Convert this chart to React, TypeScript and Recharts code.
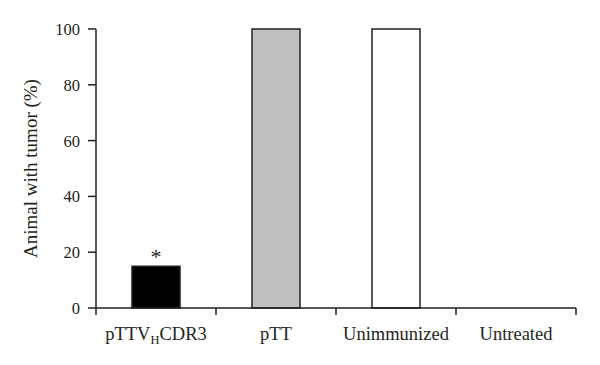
import { BarChart, Bar, XAxis, YAxis, Cell, LabelList } from 'recharts';

const categories = ['pTTV_HCDR3', 'pTT', 'Unimmunized', 'Untreated'];
const tumorPct = [15, 100, 100, 0];
const marks = ['*', '', '', ''];
const fills = ['#000000', '#c0c0c0', '#ffffff', '#ffffff'];
const yTicks = [0, 20, 40, 60, 80, 100];
const yTitle = 'Animal with tumor (%)';

const data = categories.map((name, i) => ({ name, value: tumorPct[i], mark: marks[i] }));

const INK = '#231f20';
const FONT = "'Liberation Serif', 'DejaVu Serif', serif";
const CHART_W = 600;
const CHART_H = 365;
const MARGIN = { top: 29, right: 24, bottom: 12, left: 16 };
const Y_W = 80;
const X_H = 45;
const BAND = (CHART_W - MARGIN.left - MARGIN.right - Y_W) / categories.length;
const PLOT_MID = MARGIN.top + (CHART_H - MARGIN.top - MARGIN.bottom - X_H) / 2;

// category label at the center, tick marks on the band edges
function CategoryTick({ x, y, payload, index }: { x?: number; y?: number; payload?: { value: string }; index?: number }) {
  const cx = x ?? 0;
  const ty = y ?? 0;
  const raw = payload?.value ?? '';
  const [main, rest] = raw.split('_');
  const isLast = index === categories.length - 1;
  return (
    <g>
      <line x1={cx - BAND / 2} x2={cx - BAND / 2} y1={ty - 7} y2={ty} stroke={INK} strokeWidth={1.5} />
      {isLast && <line x1={cx + BAND / 2} x2={cx + BAND / 2} y1={ty - 7} y2={ty} stroke={INK} strokeWidth={1.5} />}
      <text x={cx} y={ty + 25} textAnchor="middle" style={{ fontFamily: FONT, fontSize: 18.5 }} fill={INK}>
        {rest === undefined ? (
          main
        ) : (
          <>
            <tspan>{main}</tspan>
            <tspan style={{ fontSize: 12.5 }} dy={4}>{rest.charAt(0)}</tspan>
            <tspan dy={-4}>{rest.slice(1)}</tspan>
          </>
        )}
      </text>
    </g>
  );
}

function ValueTick({ x, y, payload }: { x?: number; y?: number; payload?: { value: number } }) {
  return (
    <text x={x} y={(y ?? 0) + 6} textAnchor="end" fill={INK} style={{ fontFamily: FONT, fontSize: 16.5 }}>
      {payload?.value}
    </text>
  );
}

export default function App() {
  return (
    <div style={{ width: CHART_W, height: CHART_H, background: '#fff', fontFamily: FONT, position: 'relative' }}>
      <style>{'body{margin:0}'}</style>
      <BarChart width={CHART_W} height={CHART_H} data={data} margin={MARGIN}>
        <XAxis
          dataKey="name"
          axisLine={{ stroke: INK, strokeWidth: 1.5 }}
          tickLine={false}
          tickSize={7}
          tickMargin={0}
          height={X_H}
          interval={0}
          tick={<CategoryTick />}
        />
        <YAxis
          domain={[0, 100]}
          ticks={yTicks}
          width={Y_W}
          axisLine={{ stroke: INK, strokeWidth: 1.5 }}
          tickLine={{ stroke: INK, strokeWidth: 1.5 }}
          tickSize={8}
          tickMargin={8}
          tick={<ValueTick />}
        />
        <Bar dataKey="value" barSize={48} stroke={INK} strokeWidth={1.5} isAnimationActive={false}>
          {data.map((d, i) => (
            <Cell key={d.name} fill={fills[i]} />
          ))}
          <LabelList dataKey="mark" position="top" offset={2} fill={INK} style={{ fontFamily: FONT, fontSize: 22 }} />
        </Bar>
        <text
          x={30}
          y={PLOT_MID}
          transform={`rotate(-90 30 ${PLOT_MID})`}
          textAnchor="middle"
          dominantBaseline="central"
          fill={INK}
          style={{ fontFamily: FONT, fontSize: 19 }}
        >
          {yTitle}
        </text>
      </BarChart>
    </div>
  );
}
